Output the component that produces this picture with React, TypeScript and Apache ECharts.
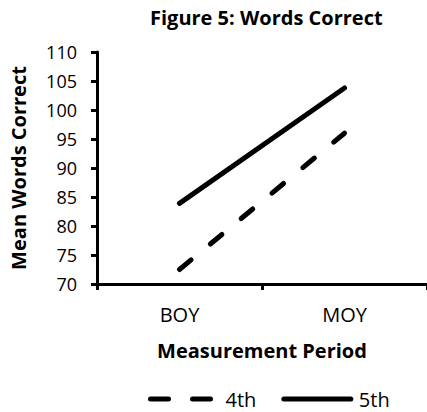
import React, { useEffect, useRef } from "react";
import * as echarts from "echarts";

const categories = ["BOY", "MOY"];
const fourth = [72.5, 96.0];
const fifth = [83.9, 103.8];
const yTicks = { min: 70, max: 110, interval: 5 };

const FONT = "'Open Sans', 'Noto Sans', sans-serif";

export default function App() {
  const ref = useRef<HTMLDivElement>(null);
  useEffect(() => {
    if (!ref.current) return;
    const chart = echarts.init(ref.current, undefined, { renderer: "svg" });
    chart.setOption({
      animation: false,
      backgroundColor: "#ffffff",
      title: {
        text: "Figure 5: Words Correct",
        left: 145,
        top: 2,
        textStyle: { fontFamily: FONT, fontWeight: "bold", fontSize: 20, color: "#000" },
      },
      grid: { left: 94, top: 52, right: -4, bottom: 128, containLabel: false },
      xAxis: {
        type: "category",
        data: categories,
        boundaryGap: true,
        name: "Measurement Period",
        nameLocation: "middle",
        nameGap: 56,
        nameTextStyle: { fontFamily: FONT, fontWeight: "bold", fontSize: 20, color: "#000" },
        axisLine: { lineStyle: { color: "#000", width: 3 } },
        axisTick: { show: true, length: 6, lineStyle: { color: "#000", width: 3 } },
        axisLabel: { fontFamily: FONT, fontSize: 20, color: "#000", margin: 20 },
        splitLine: { show: false },
      },
      yAxis: {
        type: "value",
        min: yTicks.min,
        max: yTicks.max,
        interval: yTicks.interval,
        name: "Mean Words Correct",
        nameLocation: "middle",
        nameRotate: 90,
        nameGap: 69,
        nameTextStyle: { fontFamily: FONT, fontWeight: "bold", fontSize: 20, color: "#000" },
        axisLine: { show: true, lineStyle: { color: "#000", width: 3 } },
        axisTick: { show: true, length: 6, lineStyle: { color: "#000", width: 3 } },
        axisLabel: { fontFamily: FONT, fontSize: 18, color: "#000", margin: 20 },
        splitLine: { show: false },
      },
      legend: {
        data: [
          { name: "4th", lineStyle: { width: 5, type: [18, 24], cap: "round", color: "#000" } },
          { name: "5th", lineStyle: { width: 5, type: "solid", cap: "round", color: "#000" } },
        ],
        left: 143,
        top: 384,
        itemWidth: 67,
        itemHeight: 20,
        itemGap: 25,
        itemStyle: { opacity: 0 },
        lineStyle: { width: 5, cap: "round" },
        textStyle: { fontFamily: FONT, fontSize: 20, color: "#000", padding: [0, 0, 0, 3] },
      },
      series: [
        {
          name: "4th",
          type: "line",
          data: fourth,
          symbol: "none",
          lineStyle: { color: "#000", width: 5, type: [15, 25], cap: "round" },
          itemStyle: { color: "#000" },
        },
        {
          name: "5th",
          type: "line",
          data: fifth,
          symbol: "none",
          lineStyle: { color: "#000", width: 5, type: "solid", cap: "round" },
          itemStyle: { color: "#000" },
        },
      ],
    });
    return () => chart.dispose();
  }, []);
  return <div ref={ref} style={{ width: 427, height: 412, position: "absolute", left: 0, top: 0 }} />;
}
